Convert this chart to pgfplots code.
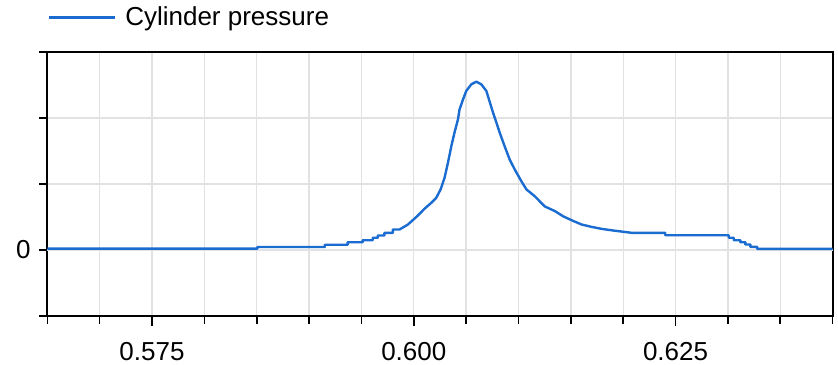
\documentclass[border=0pt]{standalone}
\usepackage{fontspec}
\setmainfont{Liberation Sans}
\usepackage{pgfplots}
\pgfplotsset{compat=1.18}
\definecolor{cpblue}{RGB}{26,108,209}
\definecolor{gridgray}{RGB}{226,226,226}
\definecolor{zerogray}{RGB}{190,190,190}
\begin{document}
\begin{tikzpicture}
\useasboundingbox (-35.475pt,-36pt) rectangle (593.025pt,237pt);
\begin{axis}[
  scale only axis,
  width=589pt, height=198pt,
  xmin=0.565, xmax=0.640,
  ymin=-1, ymax=3,
  axis line style={black, line width=1.5pt},
  tick align=outside,
  xtick pos=bottom, ytick pos=left,
  xtick={0.575,0.600,0.625},
  xticklabels={0.575,0.600,0.625},
  minor xtick={0.565,0.570,0.580,0.585,0.590,0.595,0.605,0.610,0.615,0.620,0.630,0.635,0.640},
  ytick={-1,1,2,3},
  yticklabels={,,,},
  extra y ticks={0},
  extra y tick labels={0},
  extra y tick style={grid style={zerogray, line width=1.1pt}},
  xmajorgrids=true, xminorgrids=true, ymajorgrids=true,
  major grid style={gridgray, line width=1pt},
  minor grid style={gridgray, line width=1pt},
  major tick length=6pt, minor tick length=6pt,
  tick style={black, line width=1.2pt},
  xtick style={/pgfplots/major tick length=7.5pt},
  ticklabel style={font=\fontsize{19.5}{23}\selectfont},
  xticklabel style={yshift=-10pt},
  yticklabel style={xshift=-3pt},
  /pgf/number format/assume math mode=true,
  legend style={at={(0,1)}, anchor=south west, yshift=16pt, draw=none, fill=none,
    inner sep=0pt, font=\fontsize{19.5}{23}\selectfont,
    /tikz/every odd column/.append style={column sep=5pt}},
  legend image code/.code={\draw[#1] (0pt,0pt) -- (49.5pt,0pt);},
]
\addplot[cpblue, line width=1.8pt, line join=round] coordinates {
(0.565,0.02) (0.58506,0.02) (0.58506,0.045) (0.5915,0.045) (0.5915,0.08)
(0.59368,0.08) (0.59368,0.118) (0.59512,0.118) (0.59512,0.148) (0.59608,0.148)
(0.59608,0.185) (0.59656,0.185) (0.59656,0.22) (0.59719,0.22) (0.59719,0.26)
(0.59800,0.26) (0.59800,0.31) (0.59863,0.31) (0.59944,0.386) (0.60032,0.512)
(0.60102,0.624) (0.60167,0.715) (0.60214,0.79) (0.60256,0.917) (0.60293,1.09)
(0.60326,1.32) (0.60358,1.57) (0.60389,1.78) (0.60422,1.98) (0.60437,2.13)
(0.60470,2.28) (0.60501,2.41) (0.60549,2.51) (0.60597,2.55) (0.60645,2.51)
(0.60693,2.41) (0.60724,2.25) (0.60757,2.08) (0.60789,1.93) (0.60820,1.78)
(0.60868,1.57) (0.60916,1.37) (0.60964,1.22) (0.61028,1.04) (0.61076,0.917)
(0.61155,0.815) (0.61251,0.66) (0.61347,0.59) (0.61427,0.51) (0.61523,0.44)
(0.61603,0.386) (0.61699,0.35) (0.61794,0.32) (0.61906,0.295) (0.62082,0.26)
(0.62401,0.26) (0.62401,0.224) (0.63008,0.224) (0.63008,0.185) (0.63056,0.185)
(0.63056,0.148) (0.63119,0.148) (0.63119,0.118) (0.63167,0.118) (0.63167,0.083)
(0.63215,0.083) (0.63215,0.048) (0.63279,0.048) (0.63279,0.018) (0.640,0.018)
};
\addlegendentry{Cylinder pressure}
\end{axis}
\end{tikzpicture}
\end{document}
